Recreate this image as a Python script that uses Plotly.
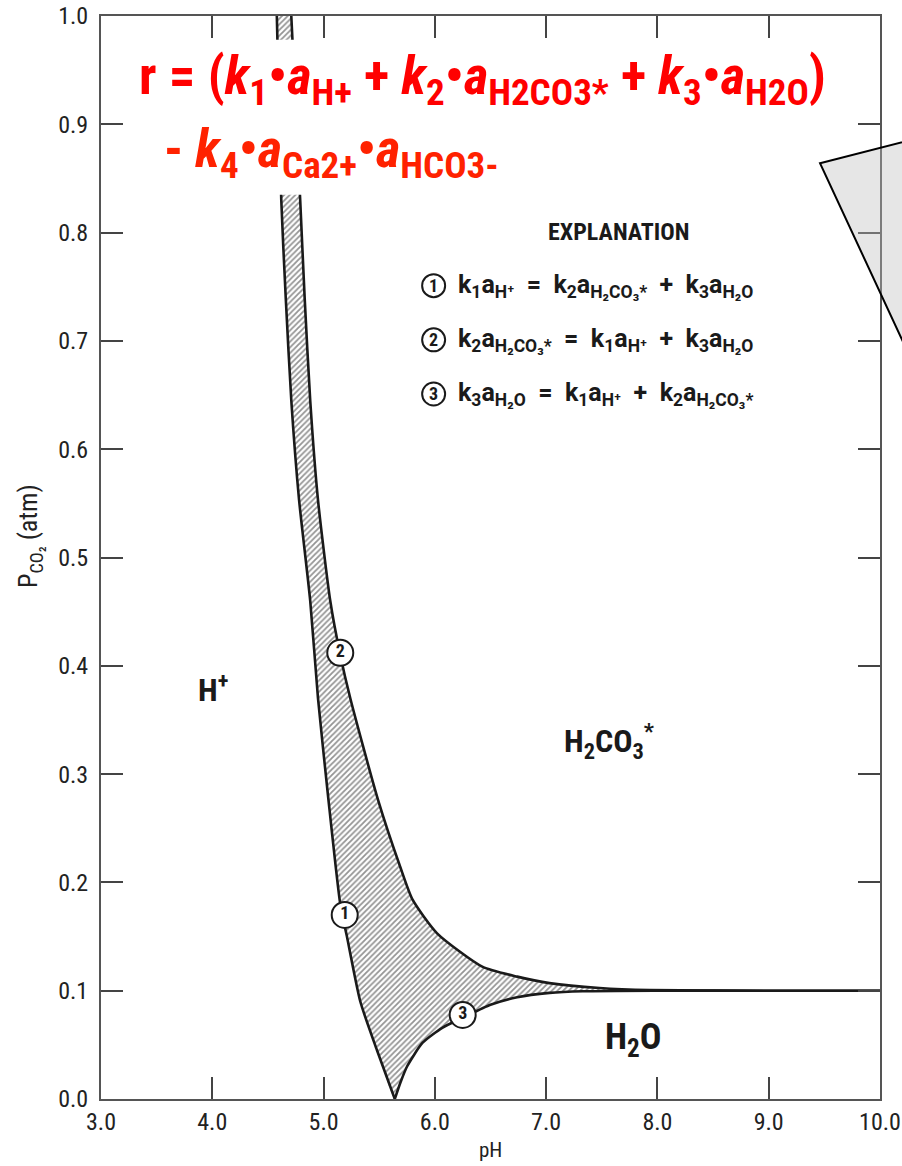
import plotly.graph_objects as go

# Boundary 1: k1*aH+ = k2*aH2CO3* + k3*aH2O
curve1_ph = [4.58, 4.62, 4.66, 4.71, 4.78, 4.88, 4.95, 5.04, 5.15, 5.21, 5.33, 5.48, 5.64]
curve1_p = [1.00, 0.83, 0.74, 0.645, 0.553, 0.46, 0.37, 0.28, 0.18, 0.15, 0.09, 0.045, 0.0]

# Boundary 2: k2*aH2CO3* = k1*aH+ + k3*aH2O
curve2_ph = [4.71, 4.79, 4.83, 4.88, 4.95, 5.06, 5.15, 5.24, 5.49, 5.69, 5.80, 6.02, 6.43, 6.74, 7.03, 7.48, 7.93, 9.0, 10.0]
curve2_p = [1.00, 0.83, 0.74, 0.645, 0.553, 0.46, 0.41, 0.37, 0.276, 0.214, 0.184, 0.153, 0.122, 0.113, 0.107, 0.1025, 0.1006, 0.1, 0.1]

# Boundary 3: k3*aH2O = k1*aH+ + k2*aH2CO3*
curve3_ph = [5.64, 5.69, 5.75, 5.89, 6.07, 6.27, 6.50, 6.74, 7.03, 7.33, 8.0, 9.0, 10.0]
curve3_p = [0.0, 0.015, 0.030, 0.052, 0.066, 0.076, 0.087, 0.094, 0.098, 0.0995, 0.1, 0.1, 0.1]

# Circled boundary numbers placed on the curves
label_ids = ["1", "2", "3"]
label_ph = [5.19, 5.15, 6.25]
label_p = [0.170, 0.412, 0.0776]

x_ticks = [3, 4, 5, 6, 7, 8, 9, 10]
x_ticktext = ["3.0", "4.0", "5.0", "6.0", "7.0", "8.0", "9.0", "10.0"]

NARROW = "Noto Sans Condensed, Roboto Condensed, Liberation Sans Narrow, Roboto, sans-serif"
WIDE = "Roboto, Liberation Sans, Arial, sans-serif"
INK = "#1a1a1a"

fig = go.Figure()

# Hatched transition zone bounded by the three curves
zone_x = curve1_ph + curve3_ph[1:] + curve2_ph[::-1]
zone_y = curve1_p + curve3_p[1:] + curve2_p[::-1]
fig.add_trace(go.Scatter(
    x=zone_x, y=zone_y, mode="lines", fill="toself",
    fillcolor="white",
    fillpattern=dict(shape="/", size=4, solidity=0.45, fgcolor="#2a2a2a", bgcolor="white"),
    line=dict(width=0, shape="spline", smoothing=0.6), hoverinfo="skip"))

for cx, cy in [(curve1_ph, curve1_p), (curve2_ph, curve2_p), (curve3_ph, curve3_p)]:
    fig.add_trace(go.Scatter(x=cx, y=cy, mode="lines",
                             line=dict(color=INK, width=2.6, shape="spline", smoothing=0.6),
                             hoverinfo="skip"))

fig.add_trace(go.Scatter(
    x=label_ph, y=label_p, mode="markers+text",
    text=["<b>" + t + "</b>" for t in label_ids],
    textposition="middle center",
    textfont=dict(family=NARROW, size=18, color=INK),
    marker=dict(size=26, color="white", line=dict(color=INK, width=2)),
    hoverinfo="skip"))

axis_common = dict(
    ticks="inside", ticklen=22, tickwidth=2, tickcolor="#444",
    showline=True, linecolor="#555", linewidth=2, mirror="ticks",
    showgrid=False, zeroline=False, ticklabeloverflow="allow", automargin=False,
    tickfont=dict(family=NARROW, size=24, color="#222"),
)
fig.update_xaxes(range=[3, 10], tickvals=x_ticks, ticktext=x_ticktext, **axis_common)
fig.update_yaxes(range=[0, 1], tick0=0, dtick=0.1, tickformat=".1f",
                 ticklabelstandoff=6, **axis_common)

shapes = [
    # white panel behind the rate equation
    dict(type="rect", xref="paper", yref="paper", x0=0.035, x1=0.96, y0=0.835, y1=0.978,
         fillcolor="white", line=dict(width=0), layer="above"),
    # callout wedge at the right edge
    dict(type="path", xref="paper", yref="paper",
         path="M 0.923 0.864 L 1.064 0.890 L 1.064 0.646 Z",
         fillcolor="rgba(190,190,190,0.38)", line=dict(color="black", width=2), layer="above"),
]

# circles for the explanation rows
expl_y = [0.751, 0.701, 0.651]
circ_x = 0.427
for yy in expl_y:
    shapes.append(dict(type="circle", xref="paper", yref="paper",
                       x0=circ_x - 11.5 / 779, x1=circ_x + 11.5 / 779,
                       y0=yy - 11.5 / 1083, y1=yy + 11.5 / 1083,
                       line=dict(color=INK, width=2), fillcolor="white", layer="above"))
fig.update_layout(shapes=shapes)


def note(x, y, text, size, color=INK, xanchor="center", family=NARROW, **kw):
    return dict(xref="paper", yref="paper", x=x, y=y, xanchor=xanchor, yanchor="middle",
                showarrow=False, text=text, font=dict(family=family, size=size, color=color), **kw)


ann = []
# rate equation
ann.append(note(0.046, 0.941,
                "<b>r = (<i>k</i><sub>1</sub>•<i>a</i><sub>H+</sub> + <i>k</i><sub>2</sub>•<i>a</i>"
                "<sub>H2CO3*</sub> + <i>k</i><sub>3</sub>•<i>a</i><sub>H2O</sub>)</b>",
                53, color="#ff0000", xanchor="left"))
ann.append(note(0.078, 0.8735,
                "<b>- <i>k</i><sub>4</sub>•<i>a</i><sub>Ca2+</sub>•<i>a</i><sub>HCO3-</sub></b>",
                53, color="#ff2200", xanchor="left"))

# explanation block
ann.append(note(0.664, 0.8006, "<b>EXPLANATION</b>", 24))
expl_rows = [
    "k<sub>1</sub>a<sub>H⁺</sub>  =  k<sub>2</sub>a<sub>H₂CO₃*</sub>  +  k<sub>3</sub>a<sub>H₂O</sub>",
    "k<sub>2</sub>a<sub>H₂CO₃*</sub>  =  k<sub>1</sub>a<sub>H⁺</sub>  +  k<sub>3</sub>a<sub>H₂O</sub>",
    "k<sub>3</sub>a<sub>H₂O</sub>  =  k<sub>1</sub>a<sub>H⁺</sub>  +  k<sub>2</sub>a<sub>H₂CO₃*</sub>",
]
for num, row, yy in zip(label_ids, expl_rows, expl_y):
    ann.append(note(0.456, yy, "<b>" + row.replace("  ", "&nbsp;&nbsp;") + "</b>", 25,
                    xanchor="left", family=WIDE))
    ann.append(note(circ_x, yy, "<b>" + num + "</b>", 18))

# region names
ann.append(note(0.144, 0.3795, "<b>H<sup>+</sup></b>", 32))
ann.append(note(0.653, 0.331, "<b>H<sub>2</sub>CO<sub>3</sub><sup>*</sup></b>", 32))
ann.append(note(0.683, 0.0545, "<b>H<sub>2</sub>O</b>", 36))

# axis titles
ann.append(note(-0.091, 0.52, "P<sub>CO₂</sub> (atm)", 26, color="#222", textangle=-90))
ann.append(note(0.5, -0.047, "pH", 21, color="#222"))

fig.update_layout(
    annotations=ann,
    width=902, height=1166,
    margin=dict(l=101, r=22, t=16, b=67),
    paper_bgcolor="white", plot_bgcolor="white",
    showlegend=False,
)

fig.write_html("out.html")
